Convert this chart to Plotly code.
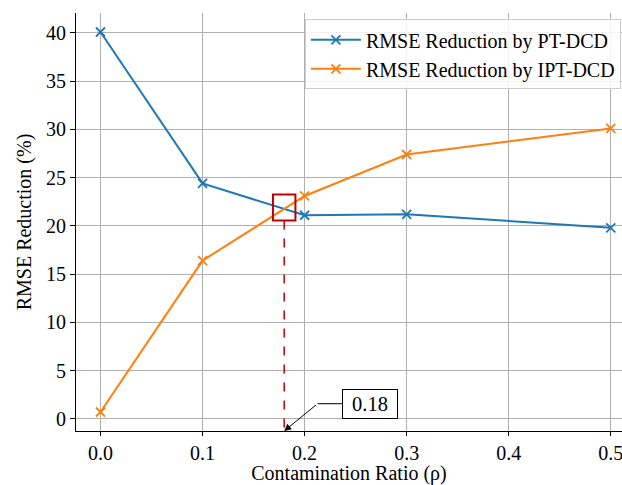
import plotly.graph_objects as go

rho = [0.0, 0.1, 0.2, 0.3, 0.5]
pt_dcd = [40.1, 24.4, 21.1, 21.2, 19.8]
ipt_dcd = [0.7, 16.4, 23.1, 27.4, 30.1]
cross_x = 0.18
cross_y = 21.9
x_ticks = [0.0, 0.1, 0.2, 0.3, 0.4, 0.5]
y_ticks = [0, 5, 10, 15, 20, 25, 30, 35, 40]

FONT = "Liberation Serif"
FS = 20
y_lo, y_hi = -1.27, 42.07

fig = go.Figure()
fig.add_trace(go.Scatter(
    x=rho, y=pt_dcd, mode="lines+markers", name="RMSE Reduction by PT-DCD",
    line=dict(color="#1f77b4", width=2),
    marker=dict(symbol="x-thin", size=9, line=dict(color="#1f77b4", width=1.8)),
))
fig.add_trace(go.Scatter(
    x=rho, y=ipt_dcd, mode="lines+markers", name="RMSE Reduction by IPT-DCD",
    line=dict(color="#ff7f0e", width=2),
    marker=dict(symbol="x-thin", size=9, line=dict(color="#ff7f0e", width=1.8)),
))

# red box at the crossing point
fig.add_shape(type="rect", x0=cross_x - 0.011, x1=cross_x + 0.011,
              y0=cross_y - 1.35, y1=cross_y + 1.35,
              line=dict(color="#c00000", width=2), fillcolor="rgba(0,0,0,0)")
# dashed drop line
fig.add_shape(type="line", x0=cross_x, x1=cross_x, y0=cross_y - 1.35, y1=y_lo,
              line=dict(color="#c00000", width=1.5, dash="dash"))
# horizontal arrow segment
fig.add_shape(type="line", x0=0.2127, x1=0.237, y0=1.56, y1=1.56,
              line=dict(color="black", width=1))
fig.add_annotation(x=cross_x, y=y_lo, ax=0.2127, ay=1.56, axref="x", ayref="y",
                   xref="x", yref="y", text="", showarrow=True,
                   arrowhead=2, arrowsize=1.4, arrowwidth=1, arrowcolor="black")
fig.add_annotation(x=0.237, y=1.56, xref="x", yref="y", text="0.18",
                   showarrow=False, xanchor="left", yanchor="middle",
                   width=54, height=28, align="center", valign="middle",
                   font=dict(family=FONT, size=FS + 0.5, color="black"),
                   bordercolor="black", borderwidth=1, borderpad=0, bgcolor="white")

fig.update_layout(
    width=622, height=485,
    margin=dict(l=76, r=0, t=13, b=54, autoexpand=False),
    plot_bgcolor="white", paper_bgcolor="white",
    font=dict(family=FONT, size=FS, color="black"),
    legend=dict(x=0.998, y=0.985, xanchor="right", yanchor="top",
                bgcolor="rgba(255,255,255,0.85)", bordercolor="#cccccc", borderwidth=1,
                font=dict(family=FONT, size=FS, color="black"), tracegroupgap=0,
                itemwidth=50),
    showlegend=True,
)
fig.update_xaxes(
    range=[-0.024, 0.511], tickvals=x_ticks, tickformat=".1f",
    showgrid=True, gridcolor="#b0b0b0", gridwidth=1,
    showline=True, linecolor="black", linewidth=1.2,
    ticks="outside", ticklen=4, tickcolor="black", zeroline=False,
    title=dict(text="Contamination Ratio (ρ)", font=dict(family=FONT, size=FS), standoff=0),
    tickfont=dict(family=FONT, size=FS), automargin=False,
    ticklabeloverflow="allow",
)
fig.update_yaxes(
    range=[y_lo, y_hi], tickvals=y_ticks,
    showgrid=True, gridcolor="#b0b0b0", gridwidth=1,
    showline=True, linecolor="black", linewidth=1.2,
    ticks="outside", ticklen=5, tickcolor="black", zeroline=False,
    title=dict(text="RMSE Reduction (%)", font=dict(family=FONT, size=FS), standoff=8),
    tickfont=dict(family=FONT, size=FS), automargin=False,
    ticklabeloverflow="allow",
)

fig.write_html("out.html", post_script="document.body.style.margin='0';",
               config={"displayModeBar": False})
